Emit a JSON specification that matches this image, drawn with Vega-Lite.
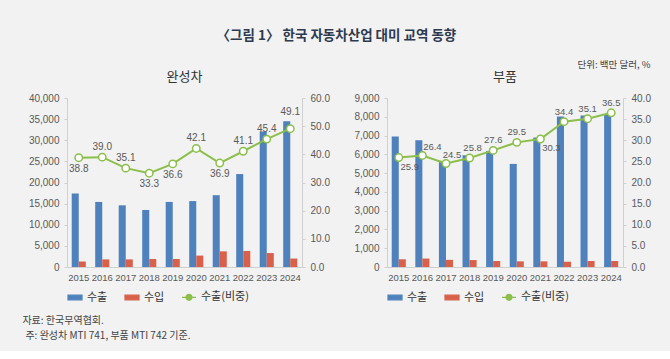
{
  "$schema": "https://vega.github.io/schema/vega-lite/v6.json",
  "background": "#f2f2f2",
  "padding": {"left": 22, "top": 29, "right": 21, "bottom": 10},
  "datasets": {
    "car": [
      {"year": "2015", "수출": 17400, "수입": 1300, "비중": 38.8},
      {"year": "2016", "수출": 15400, "수입": 1800, "비중": 39.0},
      {"year": "2017", "수출": 14600, "수입": 1800, "비중": 35.1},
      {"year": "2018", "수출": 13500, "수입": 1900, "비중": 33.3},
      {"year": "2019", "수출": 15400, "수입": 1900, "비중": 36.6},
      {"year": "2020", "수출": 15600, "수입": 2700, "비중": 42.1},
      {"year": "2021", "수출": 17000, "수입": 3700, "비중": 36.9},
      {"year": "2022", "수출": 22000, "수입": 3800, "비중": 41.1},
      {"year": "2023", "수출": 32100, "수입": 3300, "비중": 45.4},
      {"year": "2024", "수출": 34500, "수입": 2000, "비중": 49.1}
    ],
    "parts": [
      {"year": "2015", "수출": 6950, "수입": 410, "비중": 25.9},
      {"year": "2016", "수출": 6750, "수입": 450, "비중": 26.4},
      {"year": "2017", "수출": 5650, "수입": 380, "비중": 24.5},
      {"year": "2018", "수출": 5950, "수입": 370, "비중": 25.8},
      {"year": "2019", "수출": 6180, "수입": 320, "비중": 27.6},
      {"year": "2020", "수출": 5490, "수입": 300, "비중": 29.5},
      {"year": "2021", "수출": 6900, "수입": 300, "비중": 30.3},
      {"year": "2022", "수출": 8020, "수입": 280, "비중": 34.4},
      {"year": "2023", "수출": 8070, "수입": 320, "비중": 35.1},
      {"year": "2024", "수출": 8150, "수입": 320, "비중": 36.5}
    ]
  },
  "title": {
    "text": "〈그림 1〉 한국 자동차산업 대미 교역 동향",
    "font": "Noto Sans CJK KR",
    "fontSize": 13.5,
    "fontWeight": "bold",
    "color": "#2e3a4f",
    "anchor": "middle",
    "offset": 17
  },
  "vconcat": [
    {
      "title": {
        "text": "주: 완성차 MTI 741, 부품 MTI 742 기준.",
        "orient": "bottom",
        "anchor": "start",
        "font": "Noto Sans CJK KR",
        "fontSize": 10,
        "fontWeight": "normal",
        "color": "#444444",
        "offset": 5,
        "dx": 3
      },
      "vconcat": [
        {
          "title": {
            "text": "자료: 한국무역협회.",
            "orient": "bottom",
            "anchor": "start",
            "font": "Noto Sans CJK KR",
            "fontSize": 10,
            "fontWeight": "normal",
            "color": "#444444",
            "offset": 13,
            "dx": -6
          },
          "vconcat": [
            {
              "title": {
                "text": "단위: 백만 달러, %",
                "anchor": "end",
                "font": "Noto Sans CJK KR",
                "fontSize": 9.5,
                "fontWeight": "normal",
                "color": "#444444",
                "offset": 2
              },
              "hconcat": [
                {
                  "width": 235,
                  "height": 169,
                  "title": {"text": "완성차", "font": "Noto Sans CJK KR", "fontSize": 13, "fontWeight": "normal", "color": "#333333", "offset": 9},
                  "data": {"name": "car"},
                  "layer": [
                    {
                      "transform": [{"fold": ["수출", "수입"], "as": ["series", "value"]}],
                      "mark": {"type": "bar"},
                      "encoding": {
                        "x": {"field": "year", "type": "ordinal", "title": null,
                          "scale": {"paddingInner": 0.4, "paddingOuter": 0.2},
                          "axis": {"labelAngle": 0, "ticks": false, "labelPadding": 5, "labelFontSize": 9.5}},
                        "xOffset": {"field": "series", "sort": ["수출", "수입"]},
                        "y": {"field": "value", "type": "quantitative", "title": null,
                          "scale": {"domain": [0, 40000]},
                          "axis": {"values": [0, 5000, 10000, 15000, 20000, 25000, 30000, 35000, 40000], "format": ",d"}},
                        "color": {"field": "series", "type": "nominal",
                          "scale": {"domain": ["수출", "수입", "수출(비중)"], "range": ["#4f81bd", "#d9604a", "#8cbf4a"]},
                          "legend": {
                            "orient": "bottom", "direction": "horizontal", "title": null,
                            "symbolSize": 196, "columnPadding": 14, "offset": 7,
                            "labelFont": "Noto Sans CJK KR", "labelFontSize": 11, "labelColor": "#333333",
                            "encode": {"symbols": {"update": {
                              "shape": {"signal": "datum.value === '수출(비중)' ? 'M-1,0H-0.43M0.43,0H1M0.43,0A0.43,0.43,0,1,1,-0.43,0A0.43,0.43,0,1,1,0.43,0' : 'M-1,-0.33H1V0.33H-1Z'"},
                              "fill": {"signal": "datum.value === '수출(비중)' ? '#ffffff' : (datum.value === '수출' ? '#4f81bd' : '#d9604a')"},
                              "stroke": {"signal": "datum.value === '수출(비중)' ? '#8cbf4a' : (datum.value === '수출' ? '#4f81bd' : '#d9604a')"},
                              "strokeWidth": {"value": 1.2},
                              "opacity": {"value": 1}
                            }}}
                          }}
                      }
                    },
                    {
                      "encoding": {
                        "x": {"field": "year", "type": "ordinal"},
                        "y": {"field": "비중", "type": "quantitative", "title": null,
                          "scale": {"domain": [0, 60]},
                          "axis": {"orient": "right", "values": [0, 10, 20, 30, 40, 50, 60], "format": ".1f"}}
                      },
                      "layer": [
                        {"mark": {"type": "line", "strokeWidth": 2}, "encoding": {"color": {"datum": "수출(비중)"}}},
                        {"mark": {"type": "point", "filled": true, "fill": "#ffffff", "stroke": "#8cbf4a", "strokeWidth": 1.5, "size": 55, "opacity": 1}},
                        {"transform": [{"filter": {"field": "year", "oneOf": ["2016", "2017", "2020", "2022", "2023"]}}],
                          "mark": {"type": "text", "dy": -10, "font": "Liberation Sans", "fontSize": 10, "color": "#595959"},
                          "encoding": {"text": {"field": "비중", "format": ".1f"}}},
                        {"transform": [{"filter": {"field": "year", "oneOf": ["2024"]}}],
                          "mark": {"type": "text", "dy": -17, "font": "Liberation Sans", "fontSize": 10, "color": "#595959"},
                          "encoding": {"text": {"field": "비중", "format": ".1f"}}},
                        {"transform": [{"filter": {"field": "year", "oneOf": ["2015", "2018", "2019", "2021"]}}],
                          "mark": {"type": "text", "dy": 11, "font": "Liberation Sans", "fontSize": 10, "color": "#595959"},
                          "encoding": {"text": {"field": "비중", "format": ".1f"}}}
                      ]
                    }
                  ],
                  "resolve": {"scale": {"y": "independent"}}
                },
                {
                  "width": 236,
                  "height": 169,
                  "title": {"text": "부품", "font": "Noto Sans CJK KR", "fontSize": 13, "fontWeight": "normal", "color": "#333333", "offset": 9},
                  "data": {"name": "parts"},
                  "layer": [
                    {
                      "transform": [{"fold": ["수출", "수입"], "as": ["series", "value"]}],
                      "mark": {"type": "bar"},
                      "encoding": {
                        "x": {"field": "year", "type": "ordinal", "title": null,
                          "scale": {"paddingInner": 0.4, "paddingOuter": 0.2},
                          "axis": {"labelAngle": 0, "ticks": false, "labelPadding": 5, "labelFontSize": 9.5}},
                        "xOffset": {"field": "series", "sort": ["수출", "수입"]},
                        "y": {"field": "value", "type": "quantitative", "title": null,
                          "scale": {"domain": [0, 9000]},
                          "axis": {"values": [0, 1000, 2000, 3000, 4000, 5000, 6000, 7000, 8000, 9000], "format": ",d"}},
                        "color": {"field": "series", "type": "nominal",
                          "scale": {"domain": ["수출", "수입", "수출(비중)"], "range": ["#4f81bd", "#d9604a", "#8cbf4a"]},
                          "legend": {
                            "orient": "bottom", "direction": "horizontal", "title": null,
                            "symbolSize": 196, "columnPadding": 14, "offset": 7,
                            "labelFont": "Noto Sans CJK KR", "labelFontSize": 11, "labelColor": "#333333",
                            "encode": {"symbols": {"update": {
                              "shape": {"signal": "datum.value === '수출(비중)' ? 'M-1,0H-0.43M0.43,0H1M0.43,0A0.43,0.43,0,1,1,-0.43,0A0.43,0.43,0,1,1,0.43,0' : 'M-1,-0.33H1V0.33H-1Z'"},
                              "fill": {"signal": "datum.value === '수출(비중)' ? '#ffffff' : (datum.value === '수출' ? '#4f81bd' : '#d9604a')"},
                              "stroke": {"signal": "datum.value === '수출(비중)' ? '#8cbf4a' : (datum.value === '수출' ? '#4f81bd' : '#d9604a')"},
                              "strokeWidth": {"value": 1.2},
                              "opacity": {"value": 1}
                            }}}
                          }}
                      }
                    },
                    {
                      "encoding": {
                        "x": {"field": "year", "type": "ordinal"},
                        "y": {"field": "비중", "type": "quantitative", "title": null,
                          "scale": {"domain": [0, 40]},
                          "axis": {"orient": "right", "values": [0, 5, 10, 15, 20, 25, 30, 35, 40], "format": ".1f"}}
                      },
                      "layer": [
                        {"mark": {"type": "line", "strokeWidth": 2}, "encoding": {"color": {"datum": "수출(비중)"}}},
                        {"mark": {"type": "point", "filled": true, "fill": "#ffffff", "stroke": "#8cbf4a", "strokeWidth": 1.5, "size": 55, "opacity": 1}},
                        {"transform": [{"filter": {"field": "year", "oneOf": ["2019", "2020", "2022", "2023", "2024"]}}],
                          "mark": {"type": "text", "dy": -10, "font": "Liberation Sans", "fontSize": 9.5, "color": "#595959"},
                          "encoding": {"text": {"field": "비중", "format": ".1f"}}},
                        {"transform": [{"filter": {"field": "year", "oneOf": ["2018"]}}],
                          "mark": {"type": "text", "dy": -10, "dx": 3, "font": "Liberation Sans", "fontSize": 9.5, "color": "#595959"},
                          "encoding": {"text": {"field": "비중", "format": ".1f"}}},
                        {"transform": [{"filter": {"field": "year", "oneOf": ["2017"]}}],
                          "mark": {"type": "text", "dy": -8, "dx": 6, "font": "Liberation Sans", "fontSize": 9.5, "color": "#595959"},
                          "encoding": {"text": {"field": "비중", "format": ".1f"}}},
                        {"transform": [{"filter": {"field": "year", "oneOf": ["2016"]}}],
                          "mark": {"type": "text", "dy": -8, "dx": 10, "font": "Liberation Sans", "fontSize": 9.5, "color": "#595959"},
                          "encoding": {"text": {"field": "비중", "format": ".1f"}}},
                        {"transform": [{"filter": {"field": "year", "oneOf": ["2015", "2021"]}}],
                          "mark": {"type": "text", "dy": 9, "dx": 11, "font": "Liberation Sans", "fontSize": 9.5, "color": "#595959"},
                          "encoding": {"text": {"field": "비중", "format": ".1f"}}}
                      ]
                    }
                  ],
                  "resolve": {"scale": {"y": "independent"}}
                }
              ],
              "spacing": 23,
              "resolve": {"scale": {"color": "independent"}, "legend": {"color": "independent"}}
            }
          ]
        }
      ]
    }
  ],
  "config": {
    "view": {"stroke": null},
    "concat": {"spacing": 0},
    "axis": {
      "labelFont": "Liberation Sans",
      "labelFontSize": 10,
      "labelColor": "#595959",
      "labelPadding": 5,
      "domainColor": "#d0d0d0",
      "tickColor": "#d0d0d0",
      "tickSize": 3,
      "grid": false
    }
  }
}
